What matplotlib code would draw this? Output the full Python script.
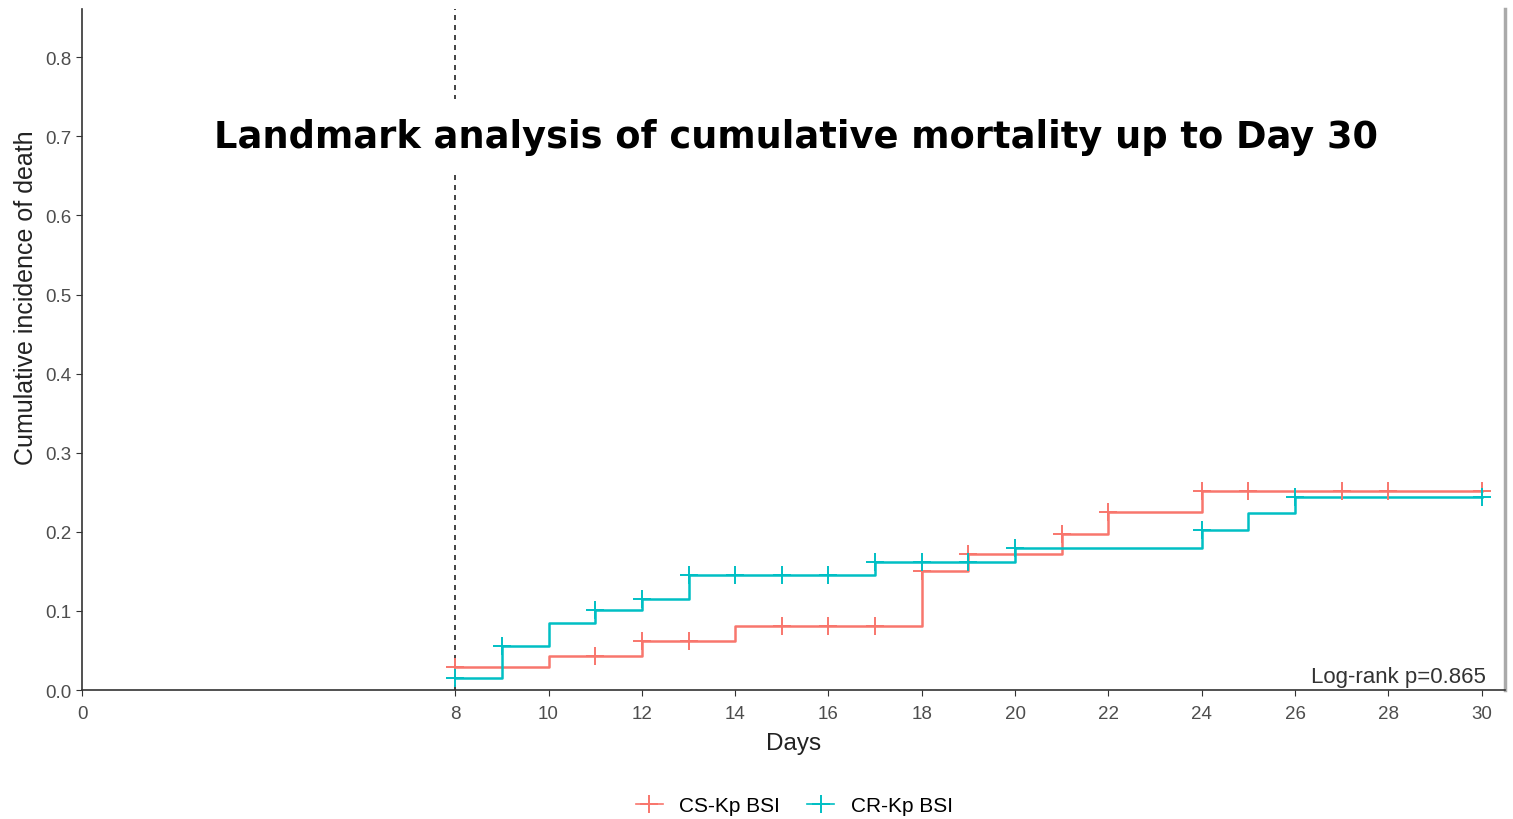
import matplotlib
matplotlib.use("Agg")
import matplotlib.pyplot as plt
from matplotlib.lines import Line2D
import numpy as np

plt.rcParams["font.family"] = ["Liberation Sans", "DejaVu Sans"]

# ---- data ----
groups = ["CS-Kp BSI", "CR-Kp BSI"]
colors = ["#F8766D", "#00BFC4"]

cs_times = [8, 10, 12, 14, 18, 19, 21, 22, 24]
cs_levels = [0.029, 0.043, 0.062, 0.081, 0.150, 0.172, 0.197, 0.225, 0.252]
cs_censor = [8, 11, 12, 13, 15, 16, 17, 18, 19, 21, 22, 24, 25, 27, 28, 30]

cr_times = [8, 9, 10, 11, 12, 13, 17, 20, 24, 25, 26]
cr_levels = [0.015, 0.056, 0.085, 0.101, 0.115, 0.145, 0.162, 0.180, 0.202, 0.224, 0.244]
cr_censor = [8, 9, 11, 12, 13, 14, 15, 16, 17, 18, 19, 20, 24, 26, 30]

end_day = 30
landmark = 8
x_ticks = [0, 8, 10, 12, 14, 16, 18, 20, 22, 24, 26, 28, 30]
y_ticks = [0.0, 0.1, 0.2, 0.3, 0.4, 0.5, 0.6, 0.7, 0.8]
title = "Landmark analysis of cumulative mortality up to Day 30"
pval_text = "Log-rank p=0.865"

series = [
    (cs_times, cs_levels, cs_censor),
    (cr_times, cr_levels, cr_censor),
]

# ---- plot ----
fig = plt.figure(figsize=(15.13, 8.2), dpi=100)
ax = fig.add_axes([0.0542, 0.1573, 0.9405, 0.8305])

ax.axvline(landmark, color="#222222", linestyle=(0, (3, 3)), linewidth=1.2, zorder=1)

for (t, lv, cens), col in zip(series, colors):
    xs = list(t) + [end_day]
    ys = list(lv) + [lv[-1]]
    ax.step(xs, ys, where="post", color=col, linewidth=1.8, zorder=3)
    ct = np.array(cens, dtype=float)
    idx = np.searchsorted(np.array(t, dtype=float), ct, side="right") - 1
    cy = np.array(lv)[np.clip(idx, 0, None)]
    ax.plot(ct, cy, linestyle="none", marker="+", markersize=13,
            markeredgewidth=1.4, color=col, zorder=4)

ax.set_xlim(0, 30.5)
ax.set_ylim(0, 0.861)
ax.set_xticks(x_ticks)
ax.set_yticks(y_ticks)
ax.set_yticklabels([f"{v:.1f}" for v in y_ticks])
ax.tick_params(axis="both", labelsize=13.5, colors="#333333", length=4,
               labelcolor="#4d4d4d")
ax.tick_params(axis="x", pad=7)

ax.spines["top"].set_visible(False)
ax.spines["left"].set_color("#333333")
ax.spines["bottom"].set_color("#333333")
ax.spines["left"].set_linewidth(1.2)
ax.spines["bottom"].set_linewidth(1.2)
ax.spines["right"].set_color("#aaaaaa")
ax.spines["right"].set_linewidth(2.5)

ax.set_xlabel("Days", fontsize=17.5, color="#222222", labelpad=7)
ax.set_ylabel("Cumulative incidence of death", fontsize=18, color="#222222")
ax.yaxis.set_label_coords(-0.031, 0.578)

ax.text(0.502, 0.8135, title, transform=ax.transAxes, ha="center", va="center",
        fontsize=26.5, fontweight="bold", color="black", family="DejaVu Sans",
        bbox=dict(facecolor="white", edgecolor="none", pad=13), zorder=5)

ax.text(0.9866, 0.012, pval_text, transform=ax.transAxes, ha="right", va="baseline",
        fontsize=16, color="#333333")

handles = [Line2D([0], [0], color=c, marker="+", markersize=13, markeredgewidth=1.4,
                  linewidth=1.2) for c in colors]
fig.legend(handles, groups, loc="center", bbox_to_anchor=(0.525, 0.016), ncol=2,
           frameon=False, fontsize=15, handlelength=1.3, columnspacing=1.3,
           handletextpad=0.8)

fig.savefig("out.png", dpi=100)
